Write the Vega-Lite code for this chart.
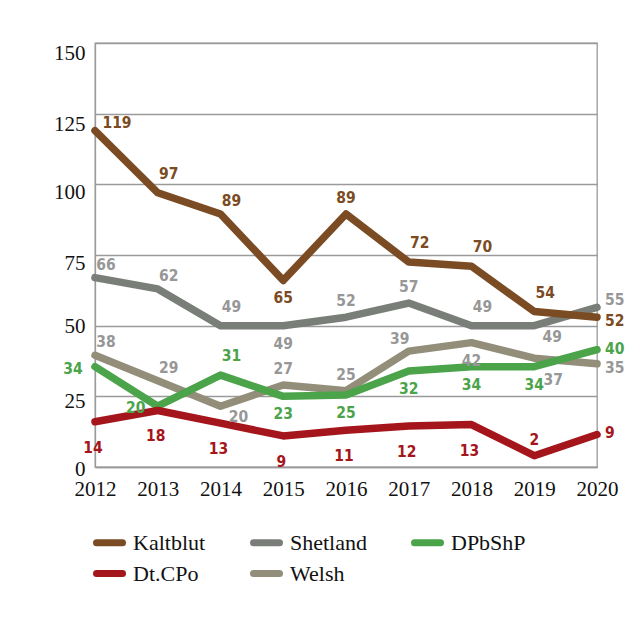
{
  "$schema": "https://vega.github.io/schema/vega-lite/v6.json",
  "width": 502,
  "height": 424,
  "autosize": {"type": "none"},
  "padding": {"left": 95, "top": 43, "right": 46, "bottom": 159},
  "background": "#ffffff",
  "config": {
    "view": {"stroke": "#9a9a9a", "strokeWidth": 1.3},
    "axis": {"labelFont": "Liberation Serif", "labelFontSize": 21, "labelColor": "#111111", "domainColor": "#9a9a9a", "domainWidth": 1.3, "ticks": false, "title": null},
    "text": {"font": "DejaVu Sans Condensed, DejaVu Sans, sans-serif", "fontWeight": "bold", "fontSize": 15.5, "baseline": "middle"}
  },
  "data": {
    "values": [
      {"series": "Shetland", "year": 2012, "value": 67, "label": "66"},
      {"series": "Shetland", "year": 2013, "value": 63, "label": "62"},
      {"series": "Shetland", "year": 2014, "value": 50, "label": "49"},
      {"series": "Shetland", "year": 2015, "value": 50, "label": "49"},
      {"series": "Shetland", "year": 2016, "value": 53, "label": "52"},
      {"series": "Shetland", "year": 2017, "value": 58, "label": "57"},
      {"series": "Shetland", "year": 2018, "value": 50, "label": "49"},
      {"series": "Shetland", "year": 2019, "value": 50, "label": "49"},
      {"series": "Shetland", "year": 2020, "value": 56.5, "label": "55"},
      {"series": "Welsh", "year": 2012, "value": 39.5, "label": "38"},
      {"series": "Welsh", "year": 2013, "value": 30.5, "label": "29"},
      {"series": "Welsh", "year": 2014, "value": 21.5, "label": "20"},
      {"series": "Welsh", "year": 2015, "value": 29, "label": "27"},
      {"series": "Welsh", "year": 2016, "value": 27, "label": "25"},
      {"series": "Welsh", "year": 2017, "value": 41, "label": "39"},
      {"series": "Welsh", "year": 2018, "value": 44, "label": "42"},
      {"series": "Welsh", "year": 2019, "value": 38.5, "label": "37"},
      {"series": "Welsh", "year": 2020, "value": 36.5, "label": "35"},
      {"series": "DPbShP", "year": 2012, "value": 35.5, "label": "34"},
      {"series": "DPbShP", "year": 2013, "value": 21.5, "label": "20"},
      {"series": "DPbShP", "year": 2014, "value": 32.5, "label": "31"},
      {"series": "DPbShP", "year": 2015, "value": 25, "label": "23"},
      {"series": "DPbShP", "year": 2016, "value": 25.5, "label": "25"},
      {"series": "DPbShP", "year": 2017, "value": 34, "label": "32"},
      {"series": "DPbShP", "year": 2018, "value": 35.5, "label": "34"},
      {"series": "DPbShP", "year": 2019, "value": 35.5, "label": "34"},
      {"series": "DPbShP", "year": 2020, "value": 41.5, "label": "40"},
      {"series": "Dt.CPo", "year": 2012, "value": 16, "label": "14"},
      {"series": "Dt.CPo", "year": 2013, "value": 20, "label": "18"},
      {"series": "Dt.CPo", "year": 2014, "value": 15.5, "label": "13"},
      {"series": "Dt.CPo", "year": 2015, "value": 11, "label": "9"},
      {"series": "Dt.CPo", "year": 2016, "value": 13, "label": "11"},
      {"series": "Dt.CPo", "year": 2017, "value": 14.5, "label": "12"},
      {"series": "Dt.CPo", "year": 2018, "value": 15, "label": "13"},
      {"series": "Dt.CPo", "year": 2019, "value": 4, "label": "2"},
      {"series": "Dt.CPo", "year": 2020, "value": 11.5, "label": "9"},
      {"series": "Kaltblut", "year": 2012, "value": 119, "label": "119"},
      {"series": "Kaltblut", "year": 2013, "value": 97, "label": "97"},
      {"series": "Kaltblut", "year": 2014, "value": 89.5, "label": "89"},
      {"series": "Kaltblut", "year": 2015, "value": 66, "label": "65"},
      {"series": "Kaltblut", "year": 2016, "value": 89.5, "label": "89"},
      {"series": "Kaltblut", "year": 2017, "value": 72.5, "label": "72"},
      {"series": "Kaltblut", "year": 2018, "value": 71, "label": "70"},
      {"series": "Kaltblut", "year": 2019, "value": 55, "label": "54"},
      {"series": "Kaltblut", "year": 2020, "value": 53, "label": "52"}
    ]
  },
  "encoding": {
    "x": {"field": "year", "type": "ordinal", "scale": {"type": "point", "padding": 0},
          "axis": {"labelAngle": 0, "labelPadding": 11, "grid": false}},
    "y": {"field": "value", "type": "quantitative", "scale": {"domain": [0, 150], "nice": false},
          "axis": {"values": [0, 25, 50, 75, 100, 125, 150], "grid": true, "gridColor": "#9a9a9a", "gridWidth": 1.3,
                   "labelPadding": 10, "labelBaseline": "middle",
                   "labelOffset": {"condition": [
                     {"test": "datum.value >= 125", "value": 10.5},
                     {"test": "datum.value >= 75", "value": 8},
                     {"test": "datum.value == 50", "value": 1},
                     {"test": "datum.value == 25", "value": 5}
                   ], "value": 2.5}}}
  },
  "layer": [
    {
      "mark": {"type": "line", "strokeWidth": 7.5, "strokeCap": "round", "strokeJoin": "round"},
      "encoding": {
        "stroke": {"field": "series", "type": "nominal",
          "scale": {"domain": ["Kaltblut", "Shetland", "DPbShP", "Dt.CPo", "Welsh"],
                    "range": ["#7b4b23", "#7a7e78", "#4ba34a", "#a5161c", "#928e79"]},
          "legend": {"orient": "none", "legendX": -2, "legendY": 483, "direction": "horizontal", "columns": 3,
                     "title": null, "symbolType": "stroke", "symbolStrokeWidth": 7, "symbolSize": 676,
                     "labelFont": "Liberation Serif", "labelFontSize": 22, "labelColor": "#111111",
                     "labelOffset": 7, "columnPadding": 33, "rowPadding": -5,
                     "encode": {"symbols": {"update": {"strokeCap": {"value": "round"}}}}}}
      }
    },
    {
      "transform": [{"filter": "indexof(['Kaltblut 2016','Shetland 2016','Shetland 2017','Welsh 2015','Welsh 2016','Dt.CPo 2019'], datum.series + ' ' + datum.year) >= 0"}],
      "mark": {"type": "text", "dy": -16},
      "encoding": {"text": {"field": "label"}, "fill": {"field": "series", "type": "nominal", "legend": null,
        "scale": {"domain": ["Kaltblut", "Shetland", "DPbShP", "Dt.CPo", "Welsh"], "range": ["#7b4b23", "#979797", "#4ba34a", "#a5161c", "#979797"]}}}
    },
    {
      "transform": [{"filter": "indexof(['Kaltblut 2013','Kaltblut 2017','Kaltblut 2018','Kaltblut 2019','Shetland 2014','Shetland 2018','DPbShP 2014'], datum.series + ' ' + datum.year) >= 0"}],
      "mark": {"type": "text", "dx": 11, "dy": -19},
      "encoding": {"text": {"field": "label"}, "fill": {"field": "series", "type": "nominal", "legend": null}}
    },
    {
      "transform": [{"filter": "indexof(['Kaltblut 2014','Shetland 2012','Shetland 2013','Welsh 2012','Welsh 2013'], datum.series + ' ' + datum.year) >= 0"}],
      "mark": {"type": "text", "dx": 11, "dy": -13},
      "encoding": {"text": {"field": "label"}, "fill": {"field": "series", "type": "nominal", "legend": null}}
    },
    {
      "transform": [{"filter": "datum.series == 'Kaltblut' && datum.year == 2012"}],
      "mark": {"type": "text", "dx": 22, "dy": -8},
      "encoding": {"text": {"field": "label"}, "fill": {"field": "series", "type": "nominal", "legend": null}}
    },
    {
      "transform": [{"filter": "datum.series == 'Welsh' && datum.year == 2017"}],
      "mark": {"type": "text", "dx": -9, "dy": -12},
      "encoding": {"text": {"field": "label"}, "fill": {"field": "series", "type": "nominal", "legend": null}}
    },
    {
      "transform": [{"filter": "indexof(['Kaltblut 2015','Shetland 2015','DPbShP 2015','DPbShP 2016','DPbShP 2017','DPbShP 2018','DPbShP 2019','Welsh 2018'], datum.series + ' ' + datum.year) >= 0"}],
      "mark": {"type": "text", "dy": 18},
      "encoding": {"text": {"field": "label"}, "fill": {"field": "series", "type": "nominal", "legend": null}}
    },
    {
      "transform": [{"filter": "datum.series == 'Dt.CPo' && datum.year <= 2018"}],
      "mark": {"type": "text", "dx": -2, "dy": 26},
      "encoding": {"text": {"field": "label"}, "fill": {"field": "series", "type": "nominal", "legend": null}}
    },
    {
      "transform": [{"filter": "indexof(['Welsh 2014','Shetland 2019'], datum.series + ' ' + datum.year) >= 0"}],
      "mark": {"type": "text", "dx": 18, "dy": 11},
      "encoding": {"text": {"field": "label"}, "fill": {"field": "series", "type": "nominal", "legend": null}}
    },
    {
      "transform": [{"filter": "datum.series == 'Welsh' && datum.year == 2019"}],
      "mark": {"type": "text", "dx": 19, "dy": 22},
      "encoding": {"text": {"field": "label"}, "fill": {"field": "series", "type": "nominal", "legend": null}}
    },
    {
      "transform": [{"filter": "datum.year == 2020 && (datum.series == 'Kaltblut' || datum.series == 'Welsh')"}],
      "mark": {"type": "text", "align": "left", "dx": 8, "dy": 4},
      "encoding": {"text": {"field": "label"}, "fill": {"field": "series", "type": "nominal", "legend": null}}
    },
    {
      "transform": [{"filter": "datum.year == 2020 && (datum.series == 'DPbShP' || datum.series == 'Dt.CPo')"}],
      "mark": {"type": "text", "align": "left", "dx": 8, "dy": -1},
      "encoding": {"text": {"field": "label"}, "fill": {"field": "series", "type": "nominal", "legend": null}}
    },
    {
      "transform": [{"filter": "datum.year == 2020 && datum.series == 'Shetland'"}],
      "mark": {"type": "text", "align": "left", "dx": 8, "dy": -7},
      "encoding": {"text": {"field": "label"}, "fill": {"field": "series", "type": "nominal", "legend": null}}
    },
    {
      "transform": [{"filter": "datum.series == 'DPbShP' && datum.year <= 2013"}],
      "mark": {"type": "text", "dx": -22, "dy": 2},
      "encoding": {"text": {"field": "label"}, "fill": {"field": "series", "type": "nominal", "legend": null}}
    }
  ]
}
